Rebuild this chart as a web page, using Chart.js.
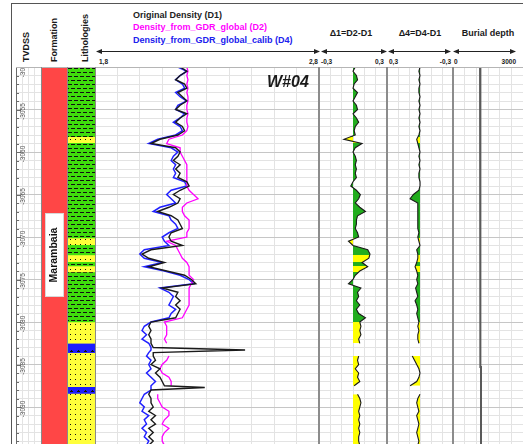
<!DOCTYPE html>
<html>
<head>
<meta charset="utf-8">
<title>W#04 density log</title>
<script src="https://cdn.jsdelivr.net/npm/chart.js@4.4.1/dist/chart.umd.min.js"></script>
<style>
  body { margin: 0; background: #fff; }
  #page { position: relative; width: 523px; height: 444px; overflow: hidden;
          font-family: 'Liberation Sans', Arial, sans-serif; color: #1a1a1a; }
  canvas { position: absolute; top: 67px; }
  .t { position: absolute; white-space: nowrap; font-weight: bold; line-height: 1; }
  .rot { transform: translate(-50%, -50%) rotate(-90deg); }
  .mid { transform: translate(-50%, -50%); }
  .rt { transform: translate(-100%, -50%); }
  .lt { transform: translate(0, -50%); }
  .ln { position: absolute; }
</style>
</head>
<body>
<div id="page">
  <!-- frame -->
  <div class="ln" style="left:11px;top:3px;width:512px;height:1px;background:#555"></div>
  <div class="ln" style="left:11px;top:3px;width:1px;height:441px;background:#555"></div>

  <!-- column titles -->
  <div class="t rot" style="left:26px;top:47px;font-size:9px">TVDSS</div>
  <div class="t rot" style="left:54px;top:40px;font-size:9px">Formation</div>
  <div class="t rot" style="left:85px;top:38px;font-size:9px">Lithologies</div>

  <div class="t lt" style="left:133px;top:15px;font-size:9px;color:#222">Original Density (D1)</div>
  <div class="t lt" style="left:133px;top:27px;font-size:9px;color:#ff00ff">Density_from_GDR_global (D2)</div>
  <div class="t lt" style="left:133px;top:40px;font-size:9px;color:#2020ee">Density_from_GDR_global_calib (D4)</div>

  <div class="t mid" style="left:351px;top:33px;font-size:9px">&Delta;1=D2-D1</div>
  <div class="t mid" style="left:420px;top:33px;font-size:9px">&Delta;4=D4-D1</div>
  <div class="t mid" style="left:488px;top:33px;font-size:9px">Burial depth</div>

  <svg width="523" height="67" style="position:absolute;left:0;top:0">
    <defs>
      <marker id="ah" markerWidth="6" markerHeight="6" refX="5" refY="3" orient="auto-start-reverse">
        <path d="M0,0.5 L6,3 L0,5.5 z" fill="#222"></path>
      </marker>
    </defs>
    <g stroke="#222" stroke-width="1">
      <line x1="97" y1="51.5" x2="319" y2="51.5" marker-start="url(#ah)" marker-end="url(#ah)"></line>
      <line x1="322" y1="51.5" x2="386" y2="51.5" marker-start="url(#ah)" marker-end="url(#ah)"></line>
      <line x1="389" y1="51.5" x2="450" y2="51.5" marker-start="url(#ah)" marker-end="url(#ah)"></line>
      <line x1="454" y1="51.5" x2="515" y2="51.5" marker-start="url(#ah)" marker-end="url(#ah)"></line>
    </g>
  </svg>

  <div class="t lt" style="left:99px;top:61.5px;font-size:6.5px">1,8</div>
  <div class="t rt" style="left:318px;top:61.5px;font-size:6.5px">2,8</div>
  <div class="t lt" style="left:321px;top:61.5px;font-size:6.5px">-0,3</div>
  <div class="t rt" style="left:384px;top:61.5px;font-size:6.5px">0,3</div>
  <div class="t lt" style="left:389px;top:61.5px;font-size:6.5px">0,3</div>
  <div class="t rt" style="left:451px;top:61.5px;font-size:6.5px">-0,3</div>
  <div class="t lt" style="left:454px;top:61.5px;font-size:6.5px">0</div>
  <div class="t rt" style="left:516px;top:61.5px;font-size:6.5px">3000</div>

  <canvas id="tvdssChart" width="30" height="377" style="left:11px"></canvas>
  <canvas id="formationChart" width="27" height="377" style="left:41px"></canvas>
  <canvas id="lithoChart" width="27" height="377" style="left:68px"></canvas>
  <canvas id="densityChart" width="224" height="377" style="left:95px"></canvas>
  <canvas id="delta1Chart" width="68" height="377" style="left:319px"></canvas>
  <canvas id="delta4Chart" width="66" height="377" style="left:387px"></canvas>
  <canvas id="burialChart" width="70" height="377" style="left:453px"></canvas>

  <!-- track borders -->
  <div class="ln" style="left:16px;top:67px;width:507px;height:1px;background:#b5b5b5"></div>
  <div class="ln" style="left:41px;top:67px;width:1px;height:377px;background:#8a8a8a"></div>
  <div class="ln" style="left:67px;top:67px;width:1px;height:377px;background:#8a8a8a"></div>
  <div class="ln" style="left:95px;top:67px;width:1px;height:377px;background:#8a8a8a"></div>
  <div class="ln" style="left:318px;top:67px;width:2px;height:377px;background:#8c8c8c"></div>
  <div class="ln" style="left:386px;top:67px;width:2px;height:377px;background:#8c8c8c"></div>
  <div class="ln" style="left:452px;top:67px;width:2px;height:377px;background:#8c8c8c"></div>

  <div class="t" style="left:267px;top:74px;font-size:16px;font-style:italic">W#04</div>
</div>

<script>
// depth window shown (TVDSS, m)
const depthMin = 3050;
const depthMax = 3094.35;
const tvdssLabels = [3050, 3055, 3060, 3065, 3070, 3075, 3080, 3085, 3090];

// log samples
const depths = [
    3050, 3050.5, 3051, 3051.5, 3052, 3052.5, 3053, 3053.5, 3054, 3054.5,
    3055, 3055.5, 3056, 3056.5, 3057, 3057.5, 3058, 3058.5, 3059, 3059.5,
    3060, 3060.5, 3061, 3061.5, 3062, 3062.5, 3063, 3063.5, 3064, 3064.5,
    3065, 3065.5, 3066, 3066.5, 3067, 3067.5, 3068, 3068.5, 3069, 3069.5,
    3070, 3070.5, 3071, 3071.5, 3072, 3072.5, 3073, 3073.5, 3074, 3074.5,
    3075, 3075.5, 3076, 3076.5, 3077, 3077.5, 3078, 3078.5, 3079, 3079.5,
    3080, 3080.5, 3081, 3081.5, 3082, 3082.5, 3083, 3083.3, 3083.6, 3084,
    3084.5, 3085, 3085.5, 3086, 3086.5, 3087, 3087.5, 3087.7, 3088, 3088.5,
    3089, 3089.5, 3090, 3090.5, 3091, 3091.5, 3092, 3092.5, 3093, 3093.5,
    3094, 3094.5
];
const densD1 = [
    2.18, 2.21, 2.18, 2.16, 2.20, 2.21, 2.17, 2.19, 2.21, 2.18,
    2.16, 2.21, 2.18, 2.16, 2.19, 2.20, 2.17, 2.09, 2.05, 2.16,
    2.18, 2.17, 2.15, 2.18, 2.16, 2.18, 2.17, 2.21, 2.22, 2.18,
    2.15, 2.18, 2.17, 2.13, 2.08, 2.14, 2.17, 2.18, 2.19, 2.14,
    2.13, 2.14, 2.19, 2.05, 2.01, 2.04, 2.11, 2.04, 2.12, 2.20,
    2.23, 2.25, 2.10, 2.17, 2.16, 2.18, 2.16, 2.18, 2.17, 2.16,
    2.05, 2.04, 2.05, 2.04, 2.05, 2.05, 2.06, 2.47, 2.06, 2.06,
    2.07, 2.05, 2.09, 2.07, 2.09, 2.10, 2.11, 2.29, 2.05, 2.04,
    2.05, 2.05, 2.06, 2.04, 2.07, 2.05, 2.07, 2.04, 2.06, 2.04,
    2.06, 2.04
];
const densD2 = [
    2.21, 2.215, 2.21, 2.215, 2.21, 2.215, 2.21, 2.215, 2.215, 2.21,
    2.21, 2.215, 2.21, 2.21, 2.215, 2.21, 2.19, 2.13, 2.12, 2.18,
    2.18, 2.19, 2.20, 2.21, 2.21, 2.21, 2.21, 2.21, 2.21, 2.22,
    2.24, 2.26, 2.21, 2.19, 2.19, 2.20, 2.22, 2.22, 2.22, 2.21,
    2.21, 2.12, 2.16, 2.17, 2.18, 2.19, 2.21, 2.22, 2.22, 2.22,
    2.24, 2.23, 2.22, 2.22, 2.22, 2.22, 2.22, 2.21, 2.20, 2.19,
    2.11, 2.12, 2.12, 2.12, 2.11, 2.12, null, null, null, 2.13,
    2.12, 2.10, 2.09, 2.10, 2.13, 2.14, 2.14, null, null, 2.08,
    2.08, 2.09, 2.10, 2.13, 2.13, 2.11, 2.10, 2.13, 2.11, 2.10,
    2.10, 2.11
];
const densD4 = [
    2.17, 2.21, 2.18, 2.16, 2.19, 2.20, 2.16, 2.18, 2.21, 2.17,
    2.16, 2.20, 2.18, 2.15, 2.18, 2.19, 2.16, 2.08, 2.04, 2.14,
    2.17, 2.15, 2.14, 2.16, 2.15, 2.16, 2.15, 2.20, 2.21, 2.14,
    2.12, 2.14, 2.16, 2.09, 2.06, 2.13, 2.14, 2.16, 2.17, 2.13,
    2.10, 2.11, 2.13, 2.02, 2.00, 2.02, 2.10, 2.02, 2.11, 2.18,
    2.22, 2.24, 2.09, 2.13, 2.15, 2.14, 2.13, 2.16, 2.14, 2.13,
    2.05, 2.02, 2.01, 2.03, 2.01, 2.04, 2.05, 2.05, 2.04, 2.03,
    2.05, 2.04, 2.05, 2.03, 2.05, 2.07, 2.05, 2.05, 2.05, 2.02,
    2.01, 2.00, 2.02, 2.01, 2.04, 2.02, 2.03, 2.01, 2.03, 2.02,
    2.04, 2.03
];
const delta1 = [
    0.02, 0.00, 0.03, 0.04, 0.01, 0.00, 0.04, 0.02, 0.00, 0.03,
    0.04, 0.00, 0.03, 0.05, 0.02, 0.01, 0.02, -0.08, 0.08, 0.02,
    0.00, 0.02, 0.03, 0.02, 0.03, 0.02, 0.03, 0.00, -0.02, 0.03,
    0.065, 0.05, 0.02, 0.06, 0.11, 0.04, 0.03, 0.03, 0.02, 0.04,
    0.05, -0.04, 0.00, 0.13, 0.15, 0.14, 0.08, 0.13, 0.06, 0.02,
    0.00, -0.04, 0.07, 0.04, 0.05, 0.03, 0.06, 0.03, 0.05, 0.11,
    0.06, 0.07, 0.06, 0.07, 0.05, 0.06, null, null, null, 0.05,
    0.04, 0.05, 0.02, 0.05, 0.04, 0.06, 0.01, null, null, 0.04,
    0.06, 0.07, 0.06, 0.05, 0.06, 0.05, 0.06, 0.05, 0.06, 0.05,
    0.05, 0.06
];
const delta4 = [
    0.00, 0.01, 0.00, 0.01, 0.00, 0.01, 0.01, 0.00, 0.01, 0.00,
    0.01, 0.00, 0.01, 0.00, 0.01, 0.00, 0.01, 0.03, 0.02, 0.01,
    0.00, 0.01, 0.00, 0.01, 0.00, 0.01, 0.01, 0.00, 0.00, 0.01,
    0.06, 0.09, 0.02, 0.02, 0.02, 0.02, 0.02, 0.02, 0.02, 0.01,
    0.02, 0.01, 0.00, 0.03, 0.02, 0.02, 0.03, 0.045, 0.03, 0.02,
    0.03, 0.02, 0.04, 0.03, 0.02, 0.045, 0.03, 0.02, 0.03, 0.02,
    0.01, 0.02, 0.01, 0.02, 0.02, 0.01, null, null, null, 0.07,
    0.05, 0.03, 0.01, 0.00, 0.01, 0.03, 0.09, null, null, 0.00,
    0.02, 0.03, 0.02, 0.01, 0.03, 0.02, 0.01, 0.02, 0.03, 0.02,
    0.01, 0.02
];

// formation
const formationNames = ['Marambaia'];
const formationTop = [3050];
const formationBase = [3094.35];
const formationLabelTop = [3067.2];
const formationLabelBase = [3077.1];

// lithology intervals
const lithoTop = [3050, 3058.2, 3058.9, 3070.1, 3070.9, 3072.1, 3072.9, 3073.4, 3074.1, 3080.0, 3082.5, 3083.6, 3087.6, 3088.4];
const lithoBase = [3058.2, 3058.9, 3070.1, 3070.9, 3072.1, 3072.9, 3073.4, 3074.1, 3080.0, 3082.5, 3083.6, 3087.6, 3088.4, 3094.35];
const lithoType = ['shale', 'sand', 'shale', 'sand', 'shale', 'sand', 'shale', 'sand', 'shale', 'sand', 'coal', 'sand', 'coal', 'sand'];

// burial depth (m)
const burialTop = [3050, 3060.7, 3085.3];
const burialBase = [3060.7, 3085.3, 3094.35];
const burialDepth = [1160, 1180, 1200];

const deltaColors = { shale: '#22ad1e', sand: '#ffff00', coal: 'rgba(0,0,0,0)' };

/**
 * Lithology fill patterns
 */
function makePattern(bg, w, h, draw) {
    const c = document.createElement('canvas');
    c.width = w;
    c.height = h;
    const g = c.getContext('2d');
    g.fillStyle = bg;
    g.fillRect(0, 0, w, h);
    g.fillStyle = '#111';
    draw(g);
    return g.createPattern(c, 'repeat');
}

const lithoPatterns = {
    shale: makePattern('#3fdc0c', 6, 8, g => {
        g.fillRect(0, 1, 4, 1);
        g.fillRect(3, 5, 3, 1);
        g.fillRect(0, 5, 1, 1);
    }),
    sand: makePattern('#ffff3a', 5, 5, g => {
        g.fillRect(2, 2, 1, 1);
    }),
    coal: makePattern('#1c1cff', 7, 10, g => {
        g.fillRect(3, 3, 1, 1);
        g.fillRect(2, 4, 3, 1);
    })
};

function points(values) {
    return depths.map((d, i) => ({ x: values[i], y: d }));
}

function depthScale() {
    return {
        type: 'linear',
        min: depthMin,
        max: depthMax,
        reverse: true,
        ticks: { display: false, stepSize: 1, includeBounds: false },
        grid: {
            drawTicks: false,
            color: ctx => (ctx.tick && ctx.tick.value % 5 === 0) ? '#c6c6c6' : '#e3e3e3'
        },
        border: { display: false }
    };
}

function valueScale(min, max, step, reverse) {
    return {
        type: 'linear',
        position: 'top',
        min: min,
        max: max,
        reverse: !!reverse,
        ticks: { display: false, stepSize: step, includeBounds: false },
        grid: { drawTicks: false, color: '#e3e3e3' },
        border: { display: false }
    };
}

function trackChart(id, datasets, xScale, extra) {
    extra = extra || {};
    return new Chart(document.getElementById(id), {
        type: 'line',
        data: { datasets: datasets },
        options: {
            indexAxis: 'y',
            responsive: false,
            animation: false,
            layout: { padding: extra.padding || 0 },
            plugins: { legend: { display: false }, tooltip: { enabled: false } },
            elements: { point: { radius: 0 }, line: { tension: 0 } },
            scales: { x: xScale, y: depthScale() }
        },
        plugins: extra.plugins || []
    });
}

// gradient that follows the lithology column, used to fill the delta curves
function lithoFill(context) {
    const chart = context.chart;
    const area = chart.chartArea;
    if (!area) return deltaColors.shale;
    const y = chart.scales.y;
    const h = area.bottom - area.top;
    const pos = v => Math.min(1, Math.max(0, (y.getPixelForValue(v) - area.top) / h));
    const g = chart.ctx.createLinearGradient(0, area.top, 0, area.bottom);
    lithoTop.forEach((top, i) => {
        const col = deltaColors[lithoType[i]];
        g.addColorStop(pos(top), col);
        g.addColorStop(pos(lithoBase[i]), col);
    });
    return g;
}

/**
 * TVDSS axis: tick marks and rotated depth labels
 */
const tvdssAxisPlugin = {
    id: 'tvdssAxis',
    afterDraw(chart) {
        const { ctx, chartArea: a, scales: { y } } = chart;
        ctx.save();
        ctx.strokeStyle = '#6a6a6a';
        ctx.lineWidth = 1;
        ctx.beginPath();
        ctx.moveTo(a.left + 0.5, a.top);
        ctx.lineTo(a.left + 0.5, a.bottom);
        ctx.stroke();
        y.ticks.forEach(t => {
            const py = Math.round(y.getPixelForValue(t.value)) + 0.5;
            ctx.beginPath();
            ctx.moveTo(a.left, py);
            ctx.lineTo(a.left + (t.value % 5 === 0 ? 5 : 3), py);
            ctx.stroke();
        });
        ctx.beginPath();
        ctx.rect(0, a.top, chart.width, a.bottom - a.top);
        ctx.clip();
        ctx.fillStyle = '#555';
        ctx.font = '6.5px "Liberation Sans", Arial, sans-serif';
        ctx.textAlign = 'center';
        ctx.textBaseline = 'middle';
        tvdssLabels.forEach(v => {
            ctx.save();
            ctx.translate(a.left + 7, y.getPixelForValue(v) + 2);
            ctx.rotate(-Math.PI / 2);
            ctx.fillText('-' + v, 0, 0);
            ctx.restore();
        });
        ctx.restore();
    }
};

/**
 * Formation name box
 */
const formationLabelPlugin = {
    id: 'formationLabel',
    afterDatasetsDraw(chart) {
        const { ctx, chartArea: a, scales: { y } } = chart;
        formationNames.forEach((name, i) => {
            const top = Math.round(y.getPixelForValue(formationLabelTop[i]));
            const bot = Math.round(y.getPixelForValue(formationLabelBase[i]));
            ctx.save();
            ctx.fillStyle = '#fff';
            ctx.fillRect(a.left + 4, top, a.right - a.left - 8, bot - top);
            ctx.strokeStyle = '#d8d8d8';
            ctx.strokeRect(a.left + 4.5, top + 0.5, a.right - a.left - 9, bot - top - 1);
            ctx.translate((a.left + a.right) / 2, (top + bot) / 2);
            ctx.rotate(-Math.PI / 2);
            ctx.font = 'bold 10.5px "Liberation Sans", Arial, sans-serif';
            ctx.fillStyle = '#111';
            ctx.textAlign = 'center';
            ctx.textBaseline = 'middle';
            ctx.fillText(name, 0, 0);
            ctx.restore();
        });
    }
};

function columnChart(id, datasets, plugins) {
    return new Chart(document.getElementById(id), {
        type: 'bar',
        data: { labels: ['col'], datasets: datasets },
        options: {
            responsive: false,
            animation: false,
            plugins: { legend: { display: false }, tooltip: { enabled: false } },
            scales: {
                x: { display: false },
                y: { display: false, min: depthMin, max: depthMax, reverse: true }
            }
        },
        plugins: plugins || []
    });
}

// TVDSS track
trackChart('tvdssChart', [], valueScale(0, 4, 1), {
    padding: { left: 5 },
    plugins: [tvdssAxisPlugin]
});

// Formation track
columnChart('formationChart', formationNames.map((name, i) => ({
    label: name,
    data: [[formationTop[i], formationBase[i]]],
    backgroundColor: '#ff4646',
    borderWidth: 0,
    grouped: false,
    barPercentage: 1,
    categoryPercentage: 1
})), [formationLabelPlugin]);

// Lithology track
columnChart('lithoChart', lithoTop.map((top, i) => ({
    label: lithoType[i],
    data: [[top, lithoBase[i]]],
    backgroundColor: lithoPatterns[lithoType[i]],
    borderWidth: 0,
    grouped: false,
    barPercentage: 1,
    categoryPercentage: 1
})));

// Density track
trackChart('densityChart', [
    { label: 'Original Density (D1)', data: points(densD1), borderColor: '#1a1a1a', borderWidth: 1.4 },
    { label: 'Density_from_GDR_global (D2)', data: points(densD2), borderColor: '#ff00ff', borderWidth: 1.3 },
    { label: 'Density_from_GDR_global_calib (D4)', data: points(densD4), borderColor: '#2020ff', borderWidth: 1.5 }
], valueScale(1.8, 2.8, 0.1));

// Delta tracks
trackChart('delta1Chart', [
    { label: 'D1=D2-D1', data: points(delta1), borderColor: '#1a1a1a', borderWidth: 1.1,
      fill: { value: 0 }, backgroundColor: lithoFill }
], valueScale(-0.3, 0.3, 0.1));

trackChart('delta4Chart', [
    { label: 'D4=D4-D1', data: points(delta4), borderColor: '#1a1a1a', borderWidth: 1.1,
      fill: { value: 0 }, backgroundColor: lithoFill }
], valueScale(-0.3, 0.3, 0.1, true));

// Burial depth track
const burialPoints = [];
burialTop.forEach((top, i) => {
    burialPoints.push({ x: burialDepth[i], y: top });
    burialPoints.push({ x: burialDepth[i], y: burialBase[i] });
});
trackChart('burialChart', [
    { label: 'Burial depth', data: burialPoints, borderColor: '#5a5a5a', borderWidth: 2 }
], valueScale(0, 3000, 500));
</script>
</body>
</html>
